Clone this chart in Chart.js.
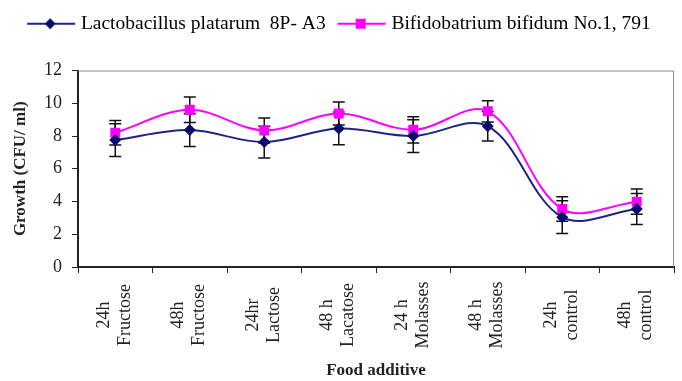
<!DOCTYPE html>
<html>
<head>
<meta charset="utf-8">
<script src="https://cdn.jsdelivr.net/npm/chart.js@4.4.0/dist/chart.umd.min.js"></script>
<style>
html, body { margin: 0; padding: 0; background: #fff; }
#wrap { width: 682px; height: 381px; }
</style>
</head>
<body>
<div id="wrap"><canvas id="chart"></canvas></div>
<script>
var foodLabels = [["24h", "Fructose"], ["48h", "Fructose"], ["24hr", "Lactose"], ["48 h", "Lacatose"],
                  ["24 h", "Molasses"], ["48 h", "Molasses"], ["24h", "control"], ["48h", "control"]];
var seriesNames = ["Lactobacillus platarum  8P- A3", "Bifidobatrium bifidum No.1, 791"];
var lactoValues = [7.75, 8.36, 7.63, 8.46, 8.0, 8.6, 3.04, 3.54];
var lactoErrors = [1.0, 1.0, 0.97, 1.0, 1.0, 0.9, 1.0, 0.95];
var bifidoValues = [8.2, 9.6, 8.34, 9.37, 8.38, 9.51, 3.54, 3.99];
var bifidoErrors = [0.75, 0.78, 0.76, 0.7, 0.8, 0.65, 0.75, 0.77];
var yMin = 0, yMax = 12, yStep = 2;

var serif = "'Liberation Serif', 'Times New Roman', serif";
var blueLine = "#1f2288", blueMark = "#0a0a6e", pink = "#ff00ff";

// little line+marker picture used as the legend symbol
function legendMarker(lineColor, markColor, diamond) {
    var c = document.createElement("canvas");
    c.width = 54; c.height = 14;
    var g = c.getContext("2d");
    g.strokeStyle = lineColor; g.lineWidth = 2;
    g.beginPath(); g.moveTo(4, 7); g.lineTo(52, 7); g.stroke();
    g.fillStyle = markColor;
    g.beginPath();
    if (diamond) {
        g.moveTo(27, 1.5); g.lineTo(32.5, 7); g.lineTo(27, 12.5); g.lineTo(21.5, 7);
    } else {
        g.rect(22, 2, 10, 10);
    }
    g.fill();
    return c;
}

// give the legend box extra room underneath so the plot starts lower
var legendSpace = {
    id: "legendSpace",
    beforeInit: function (chart) {
        var fit = chart.legend.fit;
        chart.legend.fit = function () {
            fit.call(this);
            this.height += 27;
        };
    }
};

var errorBars = {
    id: "errorBars",
    beforeDatasetsDraw: function (chart) {
        var ctx = chart.ctx, ys = chart.scales.y;
        ctx.save();
        ctx.strokeStyle = "#111";
        ctx.lineWidth = 1.5;
        chart.data.datasets.forEach(function (ds, d) {
            var meta = chart.getDatasetMeta(d);
            meta.data.forEach(function (pt, i) {
                var top = ys.getPixelForValue(ds.data[i] + ds.errors[i]);
                var bot = ys.getPixelForValue(ds.data[i] - ds.errors[i]);
                ctx.beginPath();
                ctx.moveTo(pt.x, top); ctx.lineTo(pt.x, bot);
                ctx.moveTo(pt.x - 6, top); ctx.lineTo(pt.x + 6, top);
                ctx.moveTo(pt.x - 6, bot); ctx.lineTo(pt.x + 6, bot);
                ctx.stroke();
            });
        });
        ctx.restore();
    }
};

var frameAndLabels = {
    id: "frameAndLabels",
    beforeDatasetsDraw: function (chart) {
        var a = chart.chartArea, ctx = chart.ctx;
        ctx.save();
        ctx.strokeStyle = "#8a8a8a";
        ctx.lineWidth = 1;
        ctx.beginPath();
        ctx.moveTo(a.left, a.top + 0.5); ctx.lineTo(a.right - 0.5, a.top + 0.5); ctx.lineTo(a.right - 0.5, a.bottom);
        ctx.stroke();
        ctx.restore();
    },
    afterDraw: function (chart) {
        var ctx = chart.ctx, xs = chart.scales.x;
        ctx.save();
        ctx.font = "18px " + serif;
        ctx.fillStyle = "#222";
        ctx.textAlign = "center";
        ctx.textBaseline = "middle";
        chart.data.labels.forEach(function (lab, i) {
            ctx.save();
            ctx.translate(xs.getPixelForValue(i), 315);
            ctx.rotate(-Math.PI / 2);
            ctx.fillText(lab[0], 0, -11);
            ctx.fillText(lab[1], 0, 10);
            ctx.restore();
        });
        ctx.restore();
    }
};

var markers = [legendMarker(blueLine, blueMark, true), legendMarker(pink, pink, false)];

new Chart(document.getElementById("chart"), {
    type: "line",
    data: {
        labels: foodLabels,
        datasets: [
            {
                label: seriesNames[0],
                data: lactoValues,
                errors: lactoErrors,
                borderColor: blueLine,
                backgroundColor: blueMark,
                borderWidth: 2,
                pointStyle: "rectRot",
                pointRadius: 6,
                pointBorderWidth: 0,
                tension: 0.35
            },
            {
                label: seriesNames[1],
                data: bifidoValues,
                errors: bifidoErrors,
                borderColor: pink,
                backgroundColor: pink,
                borderWidth: 2,
                pointStyle: "rect",
                pointRadius: 7,
                pointBorderWidth: 0,
                tension: 0.35
            }
        ]
    },
    options: {
        responsive: true,
        maintainAspectRatio: false,
        animation: false,
        layout: { padding: { left: 6, right: 8, top: 0, bottom: 0 } },
        plugins: {
            tooltip: { enabled: false },
            legend: {
                position: "top",
                labels: {
                    usePointStyle: true,
                    pointStyleWidth: 42,
                    padding: 14,
                    color: "#222",
                    font: { family: serif, size: 19.5 },
                    generateLabels: function (chart) {
                        return chart.data.datasets.map(function (ds, i) {
                            return { text: ds.label, pointStyle: markers[i], datasetIndex: i,
                                     fillStyle: ds.borderColor, strokeStyle: ds.borderColor, lineWidth: 0 };
                        });
                    }
                }
            }
        },
        scales: {
            x: {
                offset: true,
                grid: { offset: true, drawOnChartArea: false, drawTicks: true, tickLength: 6, color: "#222" },
                border: { color: "#222", width: 2 },
                ticks: { display: false },
                title: {
                    display: true,
                    text: "Food additive",
                    color: "#222",
                    font: { family: serif, size: 17, weight: "bold" },
                    padding: { top: 0, bottom: 0 }
                },
                afterFit: function (scale) { scale.height = 114; }
            },
            y: {
                min: yMin,
                max: yMax,
                grid: { drawOnChartArea: false, drawTicks: true, tickLength: 6, color: "#222" },
                border: { color: "#222", width: 2 },
                ticks: { stepSize: yStep, padding: 10, color: "#222", font: { family: serif, size: 18 } },
                title: {
                    display: true,
                    text: "Growth (CFU/ ml)",
                    color: "#222",
                    font: { family: serif, size: 17, weight: "bold" },
                    padding: { top: 4, bottom: 4 }
                },
                afterFit: function (scale) { scale.width = 72; }
            }
        }
    },
    plugins: [legendSpace, errorBars, frameAndLabels]
});
</script>
</body>
</html>
